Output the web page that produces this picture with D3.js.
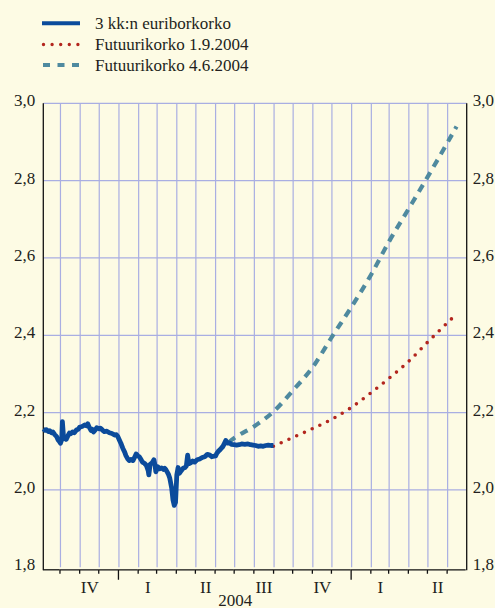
<!DOCTYPE html>
<html>
<head>
<meta charset="utf-8">
<script src="https://cdn.jsdelivr.net/npm/d3@7"></script>
</head>
<body style="margin:0;background:#fdfbe4">
<svg id="chart-area" width="495" height="608"></svg>
<script>

// 3 kk:n euriborkorko (daily)
let euribor = [
    ["2003-09-04", 2.158], ["2003-09-07", 2.154], ["2003-09-09", 2.156], ["2003-09-12", 2.151],
    ["2003-09-14", 2.153], ["2003-09-17", 2.148], ["2003-09-19", 2.150], ["2003-09-22", 2.143],
    ["2003-09-25", 2.138], ["2003-09-27", 2.130], ["2003-09-29", 2.126], ["2003-10-01", 2.121],
    ["2003-10-03", 2.130], ["2003-10-04", 2.177], ["2003-10-06", 2.133], ["2003-10-08", 2.136],
    ["2003-10-10", 2.131], ["2003-10-13", 2.141], ["2003-10-15", 2.147], ["2003-10-17", 2.145],
    ["2003-10-20", 2.150], ["2003-10-23", 2.148], ["2003-10-26", 2.155], ["2003-10-29", 2.157],
    ["2003-10-31", 2.162], ["2003-11-04", 2.164], ["2003-11-08", 2.168], ["2003-11-11", 2.166],
    ["2003-11-13", 2.171], ["2003-11-15", 2.163], ["2003-11-18", 2.154], ["2003-11-20", 2.157],
    ["2003-11-22", 2.150], ["2003-11-25", 2.156], ["2003-11-27", 2.161], ["2003-12-01", 2.158],
    ["2003-12-03", 2.160], ["2003-12-06", 2.155], ["2003-12-09", 2.151], ["2003-12-13", 2.152],
    ["2003-12-17", 2.148], ["2003-12-21", 2.146], ["2003-12-25", 2.142], ["2003-12-28", 2.143],
    ["2003-12-30", 2.139], ["2004-01-02", 2.128], ["2004-01-04", 2.121], ["2004-01-07", 2.108],
    ["2004-01-10", 2.098], ["2004-01-12", 2.089], ["2004-01-15", 2.080], ["2004-01-17", 2.076],
    ["2004-01-20", 2.079], ["2004-01-23", 2.076], ["2004-01-26", 2.086], ["2004-01-28", 2.093],
    ["2004-01-31", 2.088], ["2004-02-02", 2.086], ["2004-02-05", 2.078], ["2004-02-07", 2.072],
    ["2004-02-10", 2.069], ["2004-02-13", 2.064], ["2004-02-16", 2.050], ["2004-02-17", 2.039],
    ["2004-02-19", 2.066], ["2004-02-22", 2.070], ["2004-02-25", 2.078], ["2004-02-27", 2.061],
    ["2004-02-28", 2.047], ["2004-03-02", 2.060], ["2004-03-05", 2.055], ["2004-03-08", 2.057],
    ["2004-03-11", 2.053], ["2004-03-13", 2.056], ["2004-03-15", 2.052], ["2004-03-17", 2.046],
    ["2004-03-19", 2.040], ["2004-03-21", 2.030], ["2004-03-24", 2.004], ["2004-03-26", 1.974],
    ["2004-03-28", 1.960], ["2004-03-30", 1.968], ["2004-04-01", 2.039], ["2004-04-03", 2.058],
    ["2004-04-05", 2.043], ["2004-04-08", 2.050], ["2004-04-11", 2.056], ["2004-04-14", 2.058],
    ["2004-04-16", 2.062], ["2004-04-18", 2.090], ["2004-04-20", 2.068], ["2004-04-23", 2.070],
    ["2004-04-26", 2.075], ["2004-04-29", 2.072], ["2004-05-03", 2.078], ["2004-05-07", 2.080],
    ["2004-05-11", 2.084], ["2004-05-15", 2.086], ["2004-05-19", 2.092], ["2004-05-23", 2.090],
    ["2004-05-26", 2.086], ["2004-05-28", 2.087], ["2004-06-01", 2.088], ["2004-06-03", 2.095],
    ["2004-06-05", 2.099], ["2004-06-08", 2.104], ["2004-06-10", 2.108], ["2004-06-13", 2.114],
    ["2004-06-15", 2.121], ["2004-06-17", 2.128], ["2004-06-18", 2.124], ["2004-06-20", 2.121],
    ["2004-06-23", 2.122], ["2004-06-26", 2.118], ["2004-06-30", 2.117], ["2004-07-04", 2.116],
    ["2004-07-08", 2.117], ["2004-07-12", 2.119], ["2004-07-17", 2.118], ["2004-07-22", 2.119],
    ["2004-07-26", 2.117], ["2004-07-30", 2.116], ["2004-08-03", 2.115], ["2004-08-07", 2.113],
    ["2004-08-11", 2.114], ["2004-08-15", 2.113], ["2004-08-19", 2.115], ["2004-08-23", 2.116],
    ["2004-08-27", 2.115], ["2004-08-31", 2.115]
];

// Futuurikorko 1.9.2004
let futuresSep = [
    ["2004-08-31", 2.113], ["2004-10-01", 2.136], ["2004-11-01", 2.159], ["2004-12-01", 2.183],
    ["2005-01-01", 2.214], ["2005-02-01", 2.252], ["2005-03-01", 2.289], ["2005-04-01", 2.333],
    ["2005-05-01", 2.383], ["2005-06-01", 2.433], ["2005-06-15", 2.455]
];

// Futuurikorko 4.6.2004
let futuresJun = [
    ["2004-06-04", 2.099], ["2004-07-01", 2.135], ["2004-08-01", 2.165], ["2004-09-01", 2.204],
    ["2004-10-01", 2.258], ["2004-11-01", 2.318], ["2004-12-01", 2.396], ["2005-01-01", 2.474],
    ["2005-02-01", 2.558], ["2005-03-01", 2.643], ["2005-04-01", 2.728], ["2005-05-01", 2.811],
    ["2005-06-01", 2.899], ["2005-06-15", 2.940]
];

let legendLabels = ["3 kk:n euriborkorko", "Futuurikorko 1.9.2004", "Futuurikorko 4.6.2004"];
let yTicks = [1.8, 2.0, 2.2, 2.4, 2.6, 2.8, 3.0];
let quarterLabels = [
    ["2003-10-01", "IV"], ["2004-01-01", "I"], ["2004-04-01", "II"], ["2004-07-01", "III"],
    ["2004-10-01", "IV"], ["2005-01-01", "I"], ["2005-04-01", "II"]
];
let yearLabel = ["2004-01-01", "2004"];

const FONT = "Liberation Serif";

// make sure the serif face is picked up before drawing
let probe = document.createElement("canvas").getContext("2d");
probe.font = "17px '" + FONT + "'";
probe.measureText("3 kk:n euriborkorko");
document.fonts.check("17px '" + FONT + "'");


class RateChart {

    constructor(parentElement) {
        this.parentElement = parentElement;
        this.initVis();
    }

    initVis() {
        let vis = this;

        vis.margin = {top: 103.3, right: 28.3, bottom: 40.7, left: 43.3};
        vis.width = 495 - vis.margin.left - vis.margin.right;
        vis.height = 608 - vis.margin.top - vis.margin.bottom;

        vis.root = d3.select("#" + vis.parentElement);

        vis.svg = vis.root.append("g")
            .attr("transform", "translate(" + vis.margin.left + "," + vis.margin.top + ")");

        vis.parse = d3.utcParse("%Y-%m-%d");

        // Scales
        vis.x = d3.scaleUtc()
            .domain([vis.parse("2003-09-04"), vis.parse("2005-07-01")])
            .range([0, vis.width]);

        vis.y = d3.scaleLinear()
            .domain([1.8, 3.0])
            .range([vis.height, 0]);

        vis.wrangleData();
    }

    wrangleData() {
        let vis = this;

        let toPoints = arr => arr.map(d => ({date: vis.parse(d[0]), value: d[1]}));
        vis.euribor = toPoints(euribor);
        vis.futSep = toPoints(futuresSep);
        vis.futJun = toPoints(futuresJun);

        vis.months = d3.utcMonth.range(vis.parse("2003-10-01"), vis.parse("2005-07-02"));

        vis.updateVis();
    }

    label(sel) {
        return sel.attr("font-family", FONT)
            .style("font-family", FONT)
            .attr("font-size", 17)
            .attr("fill", "#231f20");
    }

    updateVis() {
        let vis = this;

        // grid
        vis.svg.append("g").selectAll("line")
            .data(yTicks.slice(1))
            .enter().append("line")
            .attr("x1", 0).attr("x2", vis.width)
            .attr("y1", d => vis.y(d)).attr("y2", d => vis.y(d))
            .attr("stroke", "#a9aee2").attr("stroke-width", 1.2);

        vis.svg.append("g").selectAll("line")
            .data(vis.months.filter(d => vis.x(d) < vis.width - 1))
            .enter().append("line")
            .attr("x1", d => vis.x(d)).attr("x2", d => vis.x(d))
            .attr("y1", 0).attr("y2", vis.height)
            .attr("stroke", "#a9aee2").attr("stroke-width", 1.2);

        // side axes
        vis.svg.append("line")
            .attr("x1", 0).attr("x2", 0).attr("y1", 0).attr("y2", vis.height + 3)
            .attr("stroke", "#111").attr("stroke-width", 1.3);
        vis.svg.append("line")
            .attr("x1", vis.width).attr("x2", vis.width).attr("y1", 0).attr("y2", vis.height + 3)
            .attr("stroke", "#111").attr("stroke-width", 1.3);

        // bottom axis: month segments with small hooks
        let monthEdges = [vis.x.domain()[0]].concat(vis.months);
        let axisY = vis.height + 2.5;
        vis.svg.append("g").selectAll("path")
            .data(d3.pairs(monthEdges))
            .enter().append("path")
            .attr("d", d => {
                let x0 = vis.x(d[0]), x1 = vis.x(d[1]);
                let isYear = d[0].getUTCMonth() === 0 && x0 > 1;
                let down = isYear ? 10 : 4;
                if (x0 < 1) return "M" + x0 + "," + axisY + "H" + (x1 - 1);
                return "M" + (x0 - 0.5) + "," + (axisY + down) + "V" + axisY + "H" + (x1 - 1);
            })
            .attr("fill", "none")
            .attr("stroke", "#111")
            .attr("stroke-width", 1.3);

        let fmt = d => d3.format(".1f")(d).replace(".", ",");

        // y labels
        vis.svg.append("g").selectAll("text")
            .data(yTicks)
            .enter().append("text")
            .attr("x", -8)
            .attr("y", d => vis.y(d) + 3)
            .attr("text-anchor", "end")
            .call(s => vis.label(s))
            .text(fmt);

        vis.svg.append("g").selectAll("text")
            .data(yTicks)
            .enter().append("text")
            .attr("x", vis.width + 6)
            .attr("y", d => vis.y(d) + 3)
            .attr("text-anchor", "start")
            .call(s => vis.label(s))
            .text(fmt);

        // quarter labels
        vis.svg.append("g").selectAll("text")
            .data(quarterLabels)
            .enter().append("text")
            .attr("x", d => {
                let s = vis.parse(d[0]);
                return (vis.x(s) + vis.x(d3.utcMonth.offset(s, 3))) / 2;
            })
            .attr("y", vis.height + 25.5)
            .attr("text-anchor", "middle")
            .call(s => vis.label(s))
            .text(d => d[1]);

        let ys = vis.parse(yearLabel[0]);
        vis.svg.append("text")
            .attr("x", (vis.x(ys) + vis.x(d3.utcYear.offset(ys, 1))) / 2)
            .attr("y", vis.height + 38.5)
            .attr("text-anchor", "middle")
            .call(s => vis.label(s))
            .text(yearLabel[1]);

        // lines
        vis.line = d3.line()
            .x(d => vis.x(d.date))
            .y(d => vis.y(d.value));

        vis.smooth = d3.line()
            .curve(d3.curveMonotoneX)
            .x(d => vis.x(d.date))
            .y(d => vis.y(d.value));

        vis.svg.append("path")
            .datum(vis.futJun)
            .attr("d", vis.smooth)
            .attr("fill", "none")
            .attr("stroke", "#4f8a9f")
            .attr("stroke-width", 4.2)
            .attr("stroke-dasharray", "8,6.5");

        vis.svg.append("path")
            .datum(vis.futSep)
            .attr("d", vis.smooth)
            .attr("fill", "none")
            .attr("stroke", "#b3261e")
            .attr("stroke-width", 3.6)
            .attr("stroke-linecap", "round")
            .attr("stroke-dasharray", "0,8.5");

        vis.svg.append("path")
            .datum(vis.euribor)
            .attr("d", vis.line)
            .attr("fill", "none")
            .attr("stroke", "#0b4b9b")
            .attr("stroke-width", 4.8)
            .attr("stroke-linejoin", "round");

        // legend
        let legend = vis.root.append("g");
        let rowY = [23.3, 44.5, 65];
        legend.append("line")
            .attr("x1", 42).attr("x2", 80).attr("y1", rowY[0]).attr("y2", rowY[0])
            .attr("stroke", "#0b4b9b").attr("stroke-width", 4);
        legend.append("line")
            .attr("x1", 43.5).attr("x2", 80).attr("y1", rowY[1]).attr("y2", rowY[1])
            .attr("stroke", "#b3261e").attr("stroke-width", 3.4)
            .attr("stroke-linecap", "round").attr("stroke-dasharray", "0,8.6");
        legend.append("line")
            .attr("x1", 43).attr("x2", 80).attr("y1", rowY[2]).attr("y2", rowY[2])
            .attr("stroke", "#4f8a9f").attr("stroke-width", 4)
            .attr("stroke-dasharray", "7,7.5");
        legend.selectAll("text")
            .data(legendLabels)
            .enter().append("text")
            .attr("x", 95)
            .attr("y", (d, i) => rowY[i] + 5.5)
            .call(s => vis.label(s))
            .text(d => d);
    }
}

new RateChart("chart-area");
</script>
</body>
</html>
